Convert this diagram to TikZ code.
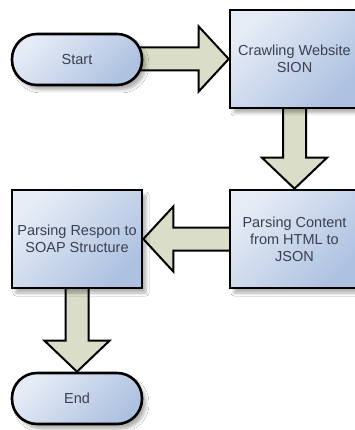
\documentclass[tikz,border=0pt]{standalone}
\usepackage{fontspec}
\setmainfont{Liberation Sans}
\usetikzlibrary{calc,shadows.blur}

\definecolor{boxlight}{HTML}{E6ECF6}
\definecolor{boxdark}{HTML}{ADC1E0}
\definecolor{arrowfill}{HTML}{DADDC8}
\definecolor{labeltext}{HTML}{3A4050}

\pgfdeclarelayer{back}
\pgfsetlayers{back,main}

\begin{document}
\begin{tikzpicture}[x=1pt,y=-1pt,
  flowbox/.style={draw=black, line width=2.6pt,
    top color=boxlight, bottom color=boxdark, shading angle=45,
    minimum width=129pt, minimum height=98pt, inner sep=0pt,
    align=center, text=labeltext, font=\fontsize{14.5}{17}\selectfont,
    blur shadow={shadow xshift=4pt, shadow yshift=-5pt,
      shadow blur radius=3pt, shadow opacity=30}},
  terminal/.style={flowbox, minimum width=130pt, minimum height=51pt,
    rounded corners=25pt},
  blockarrow/.style={draw=black, line width=2pt, fill=arrowfill,
    line join=miter}]

\path[use as bounding box, clip] (0,0) rectangle (355,430);

% process steps
\node[terminal] (start)   at (77,59.5)  {Start};
\node[flowbox]  (crawl)   at (294.5,59) {Crawling Website\\SION};
\node[flowbox]  (content) at (294.5,239) {Parsing Content\\from HTML to\\JSON};
\node[flowbox, minimum width=130pt] (respon) at (77,239) {Parsing Respon to\\SOAP Structure};
\node[terminal] (end)     at (77,398.5) {End};

% white page and block arrows between the steps (behind the boxes)
\begin{pgfonlayer}{back}
\fill[white] (0,0) rectangle (355,430);
\filldraw[blockarrow] let \p1=(start.center), \p2=(crawl.west) in
  (\x1,\y2+11.5pt) -- (\x2-30pt,\y2+11.5pt) -- (\x2-30pt,\y2+32.5pt)
  -- (\x2,\y2) -- (\x2-30pt,\y2-32.5pt) -- (\x2-30pt,\y2-11.5pt)
  -- (\x1,\y2-11.5pt);
\filldraw[blockarrow] let \p1=(crawl.center), \p2=(content.north) in
  (\x2-11.5pt,\y1) -- (\x2-11.5pt,\y2+31pt) -- (\x2-32.5pt,\y2+31pt)
  -- (\x2,\y2) -- (\x2+32.5pt,\y2+31pt) -- (\x2+11.5pt,\y2+31pt)
  -- (\x2+11.5pt,\y1);
\filldraw[blockarrow] let \p1=(content.center), \p2=(respon.east) in
  (\x1,\y2+11.5pt) -- (\x2+30pt,\y2+11.5pt) -- (\x2+30pt,\y2+32.5pt)
  -- (\x2,\y2) -- (\x2+30pt,\y2-32.5pt) -- (\x2+30pt,\y2-11.5pt)
  -- (\x1,\y2-11.5pt);
\filldraw[blockarrow] let \p1=(respon.center), \p2=(end.north) in
  (\x2-11.5pt,\y1) -- (\x2-11.5pt,\y2+31pt) -- (\x2-32.5pt,\y2+31pt)
  -- (\x2,\y2) -- (\x2+32.5pt,\y2+31pt) -- (\x2+11.5pt,\y2+31pt)
  -- (\x2+11.5pt,\y1);
\end{pgfonlayer}
\end{tikzpicture}
\end{document}
